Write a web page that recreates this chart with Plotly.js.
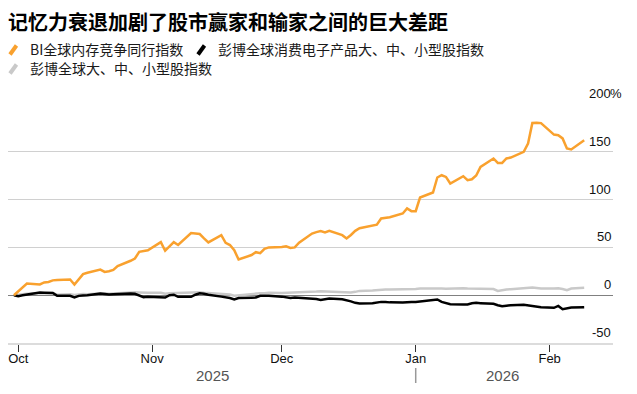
<!DOCTYPE html>
<html>
<head>
<meta charset="utf-8">
<script src="https://cdn.plot.ly/plotly-3.0.1.min.js"></script>
<style>
html,body{margin:0;padding:0;background:#fff;}
#chart{width:637px;height:394px;}
</style>
</head>
<body>
<div id="chart"></div>
<script>
// ---- data ----
const titleText = "记忆力衰退加剧了股市赢家和输家之间的巨大差距";
const seriesNames = ["BI全球内存竞争同行指数", "彭博全球消费电子产品大、中、小型股指数", "彭博全球大、中、小型股指数"];
const seriesColors = ["#f9a12e", "#000000", "#c9c9c9"];

const dates = [
  "2025-09-30",
  "2025-10-01","2025-10-02","2025-10-03","2025-10-06","2025-10-07","2025-10-08","2025-10-09","2025-10-10",
  "2025-10-13","2025-10-14","2025-10-15","2025-10-16","2025-10-17","2025-10-20","2025-10-21","2025-10-22",
  "2025-10-23","2025-10-24","2025-10-27","2025-10-28","2025-10-29","2025-10-30","2025-10-31",
  "2025-11-03","2025-11-04","2025-11-05","2025-11-06","2025-11-07","2025-11-10","2025-11-11","2025-11-12",
  "2025-11-13","2025-11-14","2025-11-17","2025-11-18","2025-11-19","2025-11-20","2025-11-21","2025-11-24",
  "2025-11-25","2025-11-26","2025-11-27","2025-11-28",
  "2025-12-01","2025-12-02","2025-12-03","2025-12-04","2025-12-05","2025-12-08","2025-12-09","2025-12-10",
  "2025-12-11","2025-12-12","2025-12-15","2025-12-16","2025-12-17","2025-12-18","2025-12-19","2025-12-22",
  "2025-12-23","2025-12-24","2025-12-25","2025-12-26","2025-12-29","2025-12-30","2025-12-31",
  "2026-01-01","2026-01-02","2026-01-05","2026-01-06","2026-01-07","2026-01-08","2026-01-09","2026-01-12",
  "2026-01-13","2026-01-14","2026-01-15","2026-01-16","2026-01-19","2026-01-20","2026-01-21","2026-01-22",
  "2026-01-23","2026-01-26","2026-01-27","2026-01-28","2026-01-29","2026-01-30",
  "2026-02-02","2026-02-03","2026-02-04","2026-02-05","2026-02-06","2026-02-09"
];

const memoryPeers = [
  0,
  4, 8.5, 12.2, 11.2, 13.3, 13.9, 15.5, 16,
  16.4, 11.2, 17, 22, 23.5, 26.8, 24.4, 25,
  26.5, 30.5, 36, 38.4, 45.3, 46, 47,
  55.5, 46.5, 51, 55.5, 52.5, 65, 64.5, 64,
  59.5, 55.2, 62.8, 54.7, 52.5, 47, 37.3, 42,
  45, 44, 48.5, 50,
  50.5, 51.2, 49.5, 50, 55, 64.5, 66, 67,
  65.6, 67.3, 62.8, 59.3, 63, 67.3, 70, 73.2,
  73.8, 80.2, 81, 81.5, 85.5, 90.7, 87.9,
  87.9, 102.2, 107.4, 123.1, 125.5, 123.7, 116.8, 124.5,
  120.3, 121.3, 125.2, 134.2, 143, 138.4, 138.4, 143,
  144, 150, 158.7, 180.2, 180.5, 180,
  168, 167.4, 164, 153.5, 152.4, 162
];

const consumerElectronics = [
  0,
  -1, 0, 0.8, 2.8, 2.6, 2.5, 2.4, -0.7,
  -0.7, -2.4, -0.7, -0.3, 0, 1.7, 1.2, 0.7,
  1, 1.3, 1.7, 1.5, 0, -2, -1.7,
  -1.7, -2.4, 0, 0.5, -1.7, -1.7, 0.5, 2,
  1.5, 0.5, -1.5, -2, -3, -4.5, -3, -2.6,
  -2.4, -0.7, -0.7, -0.7,
  -1.5, -2, -2.8, -2.5, -2.8, -3.5, -4, -5,
  -4.5, -3.5, -4.2, -5, -6.5, -8, -8.7, -8.5,
  -7.5, -7, -7, -7.5, -7.7, -7.2, -7,
  -7, -6.5, -5, -4.5, -7, -8.5, -9.4, -9.6,
  -9.8, -8.5, -8, -8.3, -9, -10.5, -11.5, -11,
  -10.5, -10, -10.5, -11.5, -12.2, -12.5,
  -13.2, -11.2, -14.6, -13.5, -12.9, -12.5
];

const globalAllCap = [
  0,
  0.5, 1, 1.5, 2, 2, 2.2, 2.3, 0.5,
  1, 0.3, 1, 1.2, 1, 2, 2, 1.5,
  1.8, 2.3, 3, 3, 2.8, 2.3, 2.5,
  2.5, 1.5, 2, 2.2, 1.8, 2.5, 3, 3.2,
  2.5, 2.2, 1.5, 0.8, 0.8, -0.5, 0, 1,
  1.5, 2, 2, 2.5,
  2.2, 2.3, 2.5, 2.5, 3, 3.5, 3.8, 4.2,
  4, 3.5, 3, 2.4, 2.8, 3.5, 4.5, 5,
  5.5, 6, 6, 6, 6, 6.3, 6.5,
  6.5, 7, 7.2, 7.5, 7, 6.8, 7, 7.2,
  7, 7, 7.2, 7, 6.5, 4.5, 5.5, 6,
  6.3, 7.5, 8, 8, 7.5, 7,
  7, 7.2, 6.5, 5.2, 7, 7.7
];

const yTickVals = [-50, 0, 50, 100, 150, 200];
const yTickText = ["-50", "0", "50", "100", "150", "200"];
const yearLabels = ["2025", "2026"];
const yearLabelDates = ["2025-11-15", "2026-01-21"];
const yearBoundary = "2026-01-01";
const xRange = ["2025-09-28 15:00", "2026-02-15 16:00"];

// ---- layout helpers (pixel -> paper) ----
const W = 637, H = 394;
const M = {l: 8, r: 24, t: 104, b: 51};
const pw = W - M.l - M.r, ph = H - M.t - M.b;
const px = x => (x - M.l) / pw;
const py = y => (H - M.b - y) / ph;

const latin = "Liberation Sans, Arial, Helvetica, sans-serif";
const cjk = "Noto Sans CJK SC, sans-serif";

const traces = [
  {x: dates, y: globalAllCap, name: seriesNames[2], type: "scatter", mode: "lines",
   line: {color: seriesColors[2], width: 2.5}},
  {x: dates, y: consumerElectronics, name: seriesNames[1], type: "scatter", mode: "lines",
   line: {color: seriesColors[1], width: 2.5}},
  {x: dates, y: memoryPeers, name: seriesNames[0], type: "scatter", mode: "lines",
   line: {color: seriesColors[0], width: 2.5}}
];

const annotations = [];
yTickVals.forEach((v, i) => {
  annotations.push({xref: "paper", x: 1, xanchor: "right", yref: "y", y: v, yanchor: "bottom",
    yshift: 1, text: yTickText[i], showarrow: false,
    font: {family: latin, size: 13, color: "#111"}});
});
annotations.push({xref: "paper", x: 1, xanchor: "left", xshift: -5, yref: "y", y: 200, yanchor: "bottom",
  yshift: 1, text: "%", showarrow: false, font: {family: latin, size: 13, color: "#111"}});
yearLabels.forEach((t, i) => {
  annotations.push({xref: "x", x: yearLabelDates[i], yref: "paper", y: py(375), yanchor: "middle",
    text: t, showarrow: false, font: {family: latin, size: 15, color: "#555"}});
});
// legend texts
const legendPos = [[28, 49], [216, 49], [28, 68]];
legendPos.forEach((p, i) => {
  annotations.push({xref: "paper", x: px(p[0]), xanchor: "left", yref: "paper", y: py(p[1]), yanchor: "middle",
    text: seriesNames[i], showarrow: false, font: {family: cjk, size: 14, color: "#1a1a1a"}});
});

const shapes = [];
legendPos.forEach((p, i) => {
  const x0 = p[0] - 18, y0 = p[1] + 5.5;
  shapes.push({type: "line", xref: "paper", yref: "paper",
    x0: px(x0), y0: py(y0), x1: px(x0 + 6.5), y1: py(y0 - 9),
    line: {color: seriesColors[i], width: 4}});
});
shapes.push({type: "line", xref: "x", yref: "paper", x0: yearBoundary, x1: yearBoundary,
  y0: py(368), y1: py(383), line: {color: "#999", width: 1.5}});

const layout = {
  width: W, height: H,
  margin: M,
  paper_bgcolor: "#fff", plot_bgcolor: "#fff",
  showlegend: false,
  title: {text: titleText, xref: "paper", x: 0, xanchor: "left", yref: "container", y: 1 - 22.7 / H,
    yanchor: "middle", font: {family: cjk, size: 20, weight: 700, color: "#000"}},
  xaxis: {type: "date", range: xRange, tick0: "2025-10-01", dtick: "M1", tickformat: "%b",
    ticks: "outside", ticklen: 7, tickwidth: 1, tickcolor: "#333", ticklabelstandoff: -5,
    showline: true, linecolor: "#dcdcdc", linewidth: 2,
    showgrid: false, zeroline: false,
    tickfont: {family: latin, size: 13, color: "#111"}, fixedrange: true},
  yaxis: {range: [-50, 200], tickmode: "array", tickvals: yTickVals, showticklabels: false,
    gridcolor: "#d0d0d0", gridwidth: 1, zeroline: true, zerolinecolor: "#808080", zerolinewidth: 1.3,
    showline: false, ticks: "", fixedrange: true},
  annotations: annotations,
  shapes: shapes
};

Plotly.newPlot("chart", traces, layout, {staticPlot: true, displayModeBar: false});
</script>
</body>
</html>
